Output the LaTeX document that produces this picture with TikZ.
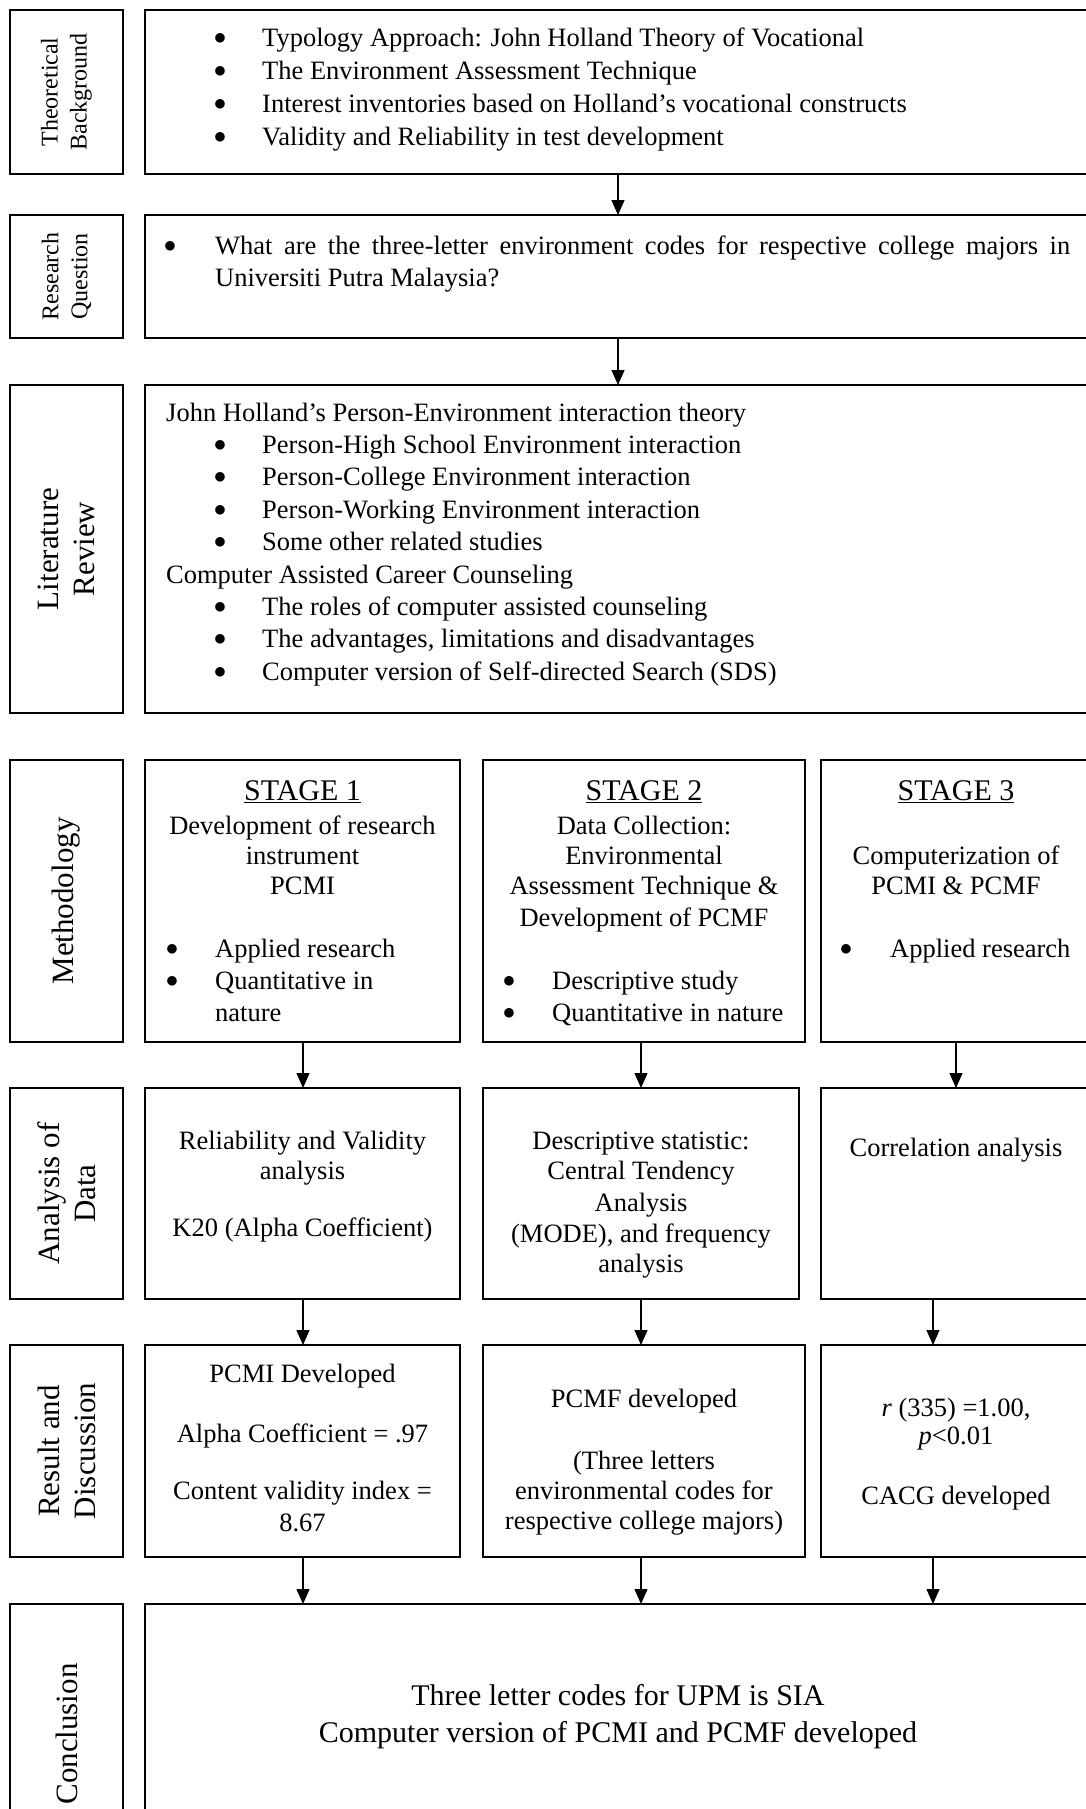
\documentclass[tikz,border=0pt]{standalone}
\usepackage{fontspec}
\setmainfont{Liberation Serif}
\usetikzlibrary{calc,arrows.meta}

\newcommand{\dotmark}{\raisebox{2pt}{$\bullet$}}

\begin{document}
\begin{tikzpicture}[x=1pt,y=-1pt]
\tikzstyle{frame}=[draw,line width=1.6pt,anchor=north west,inner sep=0pt,outer sep=0pt]
\tikzstyle{sidebox}=[frame,minimum width=113pt]
\tikzstyle{sidetext}=[rotate=90,align=center,inner sep=0pt,font=\fontsize{31}{36}\selectfont]
\tikzstyle{smallside}=[sidetext,font=\fontsize{24}{29}\selectfont]
\tikzstyle{txt}=[inner sep=0pt,anchor=base,font=\fontsize{26.5}{32}\selectfont]
\tikzstyle{item}=[txt,anchor=base west]
\tikzstyle{big}=[txt,font=\fontsize{30}{36}\selectfont]
\tikzstyle{flow}=[line width=1.3pt,-{Triangle[length=15pt,width=13pt]}]

\useasboundingbox (0,0) rectangle (1086,1809);
\clip (0,0) rectangle (1086,1809);

% ========= theoretical background
\node (theory) [frame,minimum width=960pt,minimum height=164pt] at (145,10) {};
\node (theoryside) [sidebox,minimum height=164pt] at (10,10) {};
\node (theorytag) [smallside] at (theoryside.center) {Theoretical\\Background};
\foreach \txt [count=\i] in {Typology Approach: John Holland Theory of Vocational,
  The Environment Assessment Technique,
  Interest inventories based on Holland’s vocational constructs,
  Validity and Reliability in test development}
{
  \node (tbdot\i) [txt] at (220,14+33*\i) {\dotmark};
  \node (tbitem\i) [item] at (262,14+33*\i) {\txt};
}

% ========= research question
\node (question) [frame,minimum width=960pt,minimum height=123pt] at (145,215) {};
\node (questionside) [sidebox,minimum height=123pt] at (10,215) {};
\node (questiontag) [smallside] at (questionside.center) {Research\\Question};
\node (qdot) [txt] at (170,254) {\dotmark};
\node (qline1) [item] at (215,254) {\makebox[855pt][s]{What are the three-letter environment codes for respective college majors in}};
\node (qline2) [item] at (215,286) {Universiti Putra Malaysia?};

% ========= literature review
\node (review) [frame,minimum width=960pt,minimum height=328pt] at (145,385) {};
\node (reviewside) [sidebox,minimum height=328pt] at (10,385) {};
\node (reviewtag) [sidetext] at (reviewside.center) {Literature\\Review};
\node (rvhead1) [item] at (166,421) {John Holland’s Person-Environment interaction theory};
\foreach \txt [count=\i] in {Person-High School Environment interaction,
  Person-College Environment interaction,
  Person-Working Environment interaction,
  Some other related studies}
{
  \node (rvdotA\i) [txt] at (220,421+32.4*\i) {\dotmark};
  \node (rvitemA\i) [item] at (262,421+32.4*\i) {\txt};
}
\node (rvhead2) [item] at (166,583) {Computer Assisted Career Counseling};
\foreach \txt [count=\i] in {The roles of computer assisted counseling,
  {The advantages, limitations and disadvantages},
  Computer version of Self-directed Search (SDS)}
{
  \node (rvdotB\i) [txt] at (220,583+32.4*\i) {\dotmark};
  \node (rvitemB\i) [item] at (262,583+32.4*\i) {\txt};
}

% ========= methodology
\node (stage1) [frame,minimum width=315pt,minimum height=282pt] at (145,760) {};
\node (stage2) [frame,minimum width=322pt,minimum height=282pt] at (483,760) {};
\node (stage3) [frame,minimum width=280pt,minimum height=282pt] at (821,760) {};
\node (methodside) [sidebox,minimum height=282pt] at (10,760) {};
\node (methodtag) [sidetext] at (methodside.center) {Methodology};

\node (s1title) [big] at (302.5,800) {\underline{STAGE 1}};
\foreach \y/\txt [count=\i] in {834/Development of research, 864/instrument, 894/PCMI}
  \node (s1line\i) [txt] at (302.5,\y) {\txt};
\node (s1dot1) [txt] at (172,957) {\dotmark};
\node (s1item1) [item] at (215,957) {Applied research};
\node (s1dot2) [txt] at (172,989) {\dotmark};
\node (s1item2) [item] at (215,989) {Quantitative in};
\node (s1item3) [item] at (215,1021) {nature};

\node (s2title) [big] at (644,800) {\underline{STAGE 2}};
\foreach \y/\txt [count=\i] in {834/Data Collection:, 864/Environmental,
  894/Assessment Technique \&, 926/Development of PCMF}
  \node (s2line\i) [txt] at (644,\y) {\txt};
\node (s2dot1) [txt] at (509,989) {\dotmark};
\node (s2item1) [item] at (552,989) {Descriptive study};
\node (s2dot2) [txt] at (509,1021) {\dotmark};
\node (s2item2) [item] at (552,1021) {Quantitative in nature};

\node (s3title) [big] at (956,800) {\underline{STAGE 3}};
\node (s3line1) [txt] at (956,864) {Computerization of};
\node (s3line2) [txt] at (956,894) {PCMI \& PCMF};
\node (s3dot1) [txt] at (846,957) {\dotmark};
\node (s3item1) [item] at (890,957) {Applied research};

% ========= analysis of data
\node (anal1) [frame,minimum width=315pt,minimum height=211pt] at (145,1088) {};
\node (anal2) [frame,minimum width=316pt,minimum height=211pt] at (483,1088) {};
\node (anal3) [frame,minimum width=280pt,minimum height=211pt] at (821,1088) {};
\node (analside) [sidebox,minimum height=211pt] at (10,1088) {};
\node (analtag) [sidetext] at (analside.center) {Analysis of\\Data};

\foreach \y/\txt [count=\i] in {1149/Reliability and Validity, 1179/analysis,
  1236/K20 (Alpha Coefficient)}
  \node (a1line\i) [txt] at (302.5,\y) {\txt};
\foreach \y/\txt [count=\i] in {1149/Descriptive statistic:, 1179/Central Tendency,
  1211/Analysis, 1242/{(MODE), and frequency}, 1272/analysis}
  \node (a2line\i) [txt] at (641,\y) {\txt};
\node (a3line1) [txt] at (956,1156) {Correlation analysis};

% ========= result and discussion
\node (result1) [frame,minimum width=315pt,minimum height=212pt] at (145,1345) {};
\node (result2) [frame,minimum width=322pt,minimum height=212pt] at (483,1345) {};
\node (result3) [frame,minimum width=280pt,minimum height=212pt] at (821,1345) {};
\node (resultside) [sidebox,minimum height=212pt] at (10,1345) {};
\node (resulttag) [sidetext] at (resultside.center) {Result and\\Discussion};

\foreach \y/\txt [count=\i] in {1382/PCMI Developed, 1442/Alpha Coefficient = .97,
  1499/Content validity index =, 1531/8.67}
  \node (r1line\i) [txt] at (302.5,\y) {\txt};
\foreach \y/\txt [count=\i] in {1407/PCMF developed, 1469/(Three letters,
  1499/environmental codes for, 1529/respective college majors)}
  \node (r2line\i) [txt] at (644,\y) {\txt};
\foreach \y/\txt [count=\i] in {1416/{\textit{r} (335) =1.00,}, 1444/\textit{p}<0.01,
  1504/CACG developed}
  \node (r3line\i) [txt] at (956,\y) {\txt};

% ========= conclusion
\node (concl) [frame,minimum width=960pt,minimum height=260pt] at (145,1604) {};
\node (conclside) [sidebox,minimum height=260pt] at (10,1604) {};
\node (concltag) [sidetext] at (conclside.center) {Conclusion};
\node (cline1) [big] at (618,1705) {Three letter codes for UPM is SIA};
\node (cline2) [big] at (618,1742) {Computer version of PCMI and PCMF developed};

% ====== connections
\coordinate (ax0) at (618,0);
\coordinate (ax1) at (303,0);
\coordinate (ax2) at (641,0);
\coordinate (ax3) at (956,0);
\coordinate (ax4) at (933,0);
\draw [flow] (theory.south -| ax0) -- (question.north -| ax0);
\draw [flow] (question.south -| ax0) -- (review.north -| ax0);
\draw [flow] (stage1.south -| ax1) -- (anal1.north -| ax1);
\draw [flow] (stage2.south -| ax2) -- (anal2.north -| ax2);
\draw [flow] (stage3.south -| ax3) -- (anal3.north -| ax3);
\draw [flow] (anal1.south -| ax1) -- (result1.north -| ax1);
\draw [flow] (anal2.south -| ax2) -- (result2.north -| ax2);
\draw [flow] (anal3.south -| ax4) -- (result3.north -| ax4);
\draw [flow] (result1.south -| ax1) -- (concl.north -| ax1);
\draw [flow] (result2.south -| ax2) -- (concl.north -| ax2);
\draw [flow] (result3.south -| ax4) -- (concl.north -| ax4);
\end{tikzpicture}
\end{document}
